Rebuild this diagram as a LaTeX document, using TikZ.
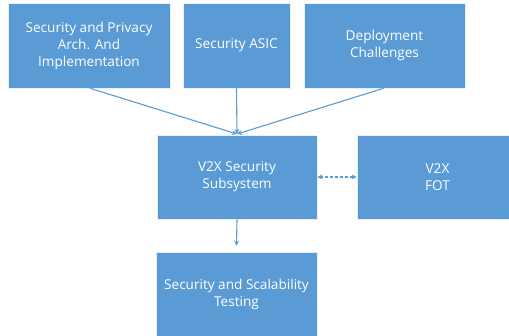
\documentclass[tikz,border=0pt]{standalone}
\usepackage{fontspec}
\setmainfont{Open Sans}
\usetikzlibrary{arrows.meta}
\definecolor{boxblue}{HTML}{5B9BD5}
\begin{document}
\begin{tikzpicture}[x=1pt,y=-1pt,
  blk/.style={draw=white!85!boxblue,line width=0.6pt,fill=boxblue,text=white,align=center,
    inner sep=0pt,font=\fontsize{13.6}{17}\selectfont},
  conn/.style={draw=boxblue,line width=1.1pt,-{Stealth[length=5pt,width=5pt]}},
  dconn/.style={conn,dashed,dash pattern=on 3pt off 2pt,{Stealth[length=5pt,width=5pt]}-{Stealth[length=5pt,width=5pt]}}]
\clip (0,0) rectangle (509,336);
\fill[white] (0,0) rectangle (509,336);
\node[blk,minimum width=162,minimum height=85] (spa) at (89,45.5) {Security and Privacy\\Arch. And\\Implementation};
\node[blk,minimum width=107,minimum height=85] (asic) at (236.5,45.5) {Security ASIC};
\node[blk,minimum width=161,minimum height=85] (dep) at (384.5,45.5) {Deployment\\Challenges};
\node[blk,minimum width=160,minimum height=84] (sub) at (237,177) {V2X Security\\Subsystem};
\node[blk,minimum width=161,minimum height=84] (fot) at (437.5,177) {V2X\\FOT};
\node[blk,minimum width=161,minimum height=85] (test) at (236.5,294.5) {Security and Scalability\\Testing};
\coordinate (hub) at (237,134);
\draw[conn] (spa.south) ++(1,0) -- (hub);
\draw[conn] (asic.south) -- (hub);
\draw[conn] (dep.south) ++(-1,0) -- (hub);
\draw[dconn] (sub.east) -- (fot.west);
\draw[conn] (sub.south) -- ([yshift=6pt]test.north);
\end{tikzpicture}
\end{document}
